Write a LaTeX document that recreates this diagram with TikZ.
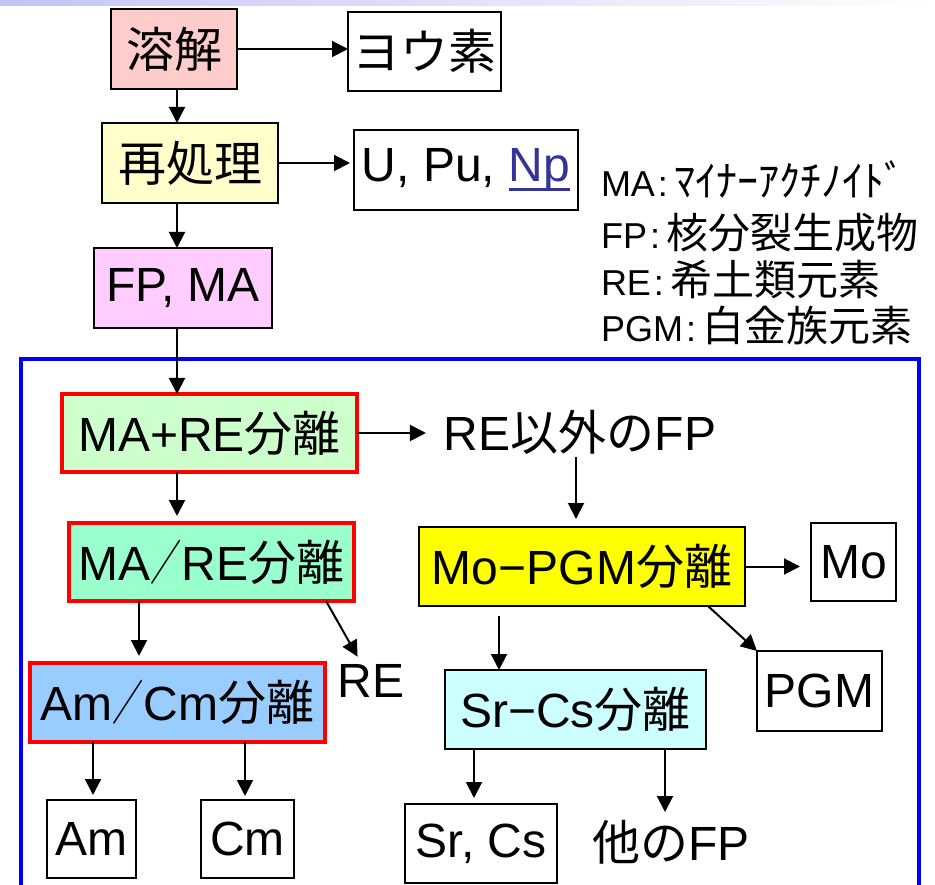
\documentclass[tikz,border=0pt]{standalone}
\usepackage{fontspec}
\usepackage{graphicx}
\setmainfont{Liberation Sans}
\newfontfamily\jp{Noto Sans CJK JP}
\usetikzlibrary{arrows.meta,calc}
\definecolor{pinkbox}{RGB}{255,204,204}
\definecolor{yellowbox}{RGB}{255,255,204}
\definecolor{magbox}{RGB}{255,204,255}
\definecolor{greenA}{RGB}{204,255,204}
\definecolor{greenB}{RGB}{153,255,204}
\definecolor{blueA}{RGB}{153,204,255}
\definecolor{yellowC}{RGB}{255,255,0}
\definecolor{cyanbox}{RGB}{204,255,255}
\definecolor{npblue}{RGB}{51,51,153}
\definecolor{bluefr}{RGB}{0,0,255}
\definecolor{barlav}{RGB}{196,196,245}
\newcommand\myul[1]{\setbox0\hbox{#1}\rlap{\rule[-9pt]{\wd0}{3pt}}\box0}
\newcommand\jslash{\scalebox{0.65}[1]{\jp ／}}
\newcommand\lgcjk[1]{{\jp\fontsize{42}{46}\selectfont #1}}
\newcommand\lgcolon{\kern3pt:\kern6pt}
\begin{document}
\begin{tikzpicture}[x=1pt,y=-1pt,
  every node/.style={inner sep=0pt, outer sep=0pt, font=\fontsize{48}{54}\selectfont},
  sz/.style 2 args={minimum width=#1pt, minimum height=#2pt},
  bx/.style={draw=black, line width=2pt},
  rbx/.style={draw=red, line width=4pt},
  legend/.style={anchor=base west, font=\fontsize{36}{42}\selectfont},
  arr/.style={line width=2pt, -{Triangle[length=16pt,width=16pt]}}]
\useasboundingbox (0,0) rectangle (935,885);
\fill[left color=barlav, right color=white] (0,0) rectangle (935,6);

% top part
\node[bx, fill=pinkbox, sz={126}{80}] (dis) at (174,49) {\jp 溶解};
\node[bx, sz={153}{79}] (iod) at (424.5,51.5) {\jp ヨウ素};
\node[bx, fill=yellowbox, sz={176}{80}] (rep) at (190,163) {\jp 再処理};
\node[bx, sz={224}{80}] (upu) at (466,170) {U, Pu, \textcolor{npblue}{\myul{Np}}};
\node[bx, fill=magbox, sz={178}{80}] (fpma) at (183,288) {FP, MA};

% legend
\node[legend] (l1) at (601,197) {MA\lgcolon\lgcjk{ﾏｲﾅｰｱｸﾁﾉｲﾄﾞ}};
\node[legend] (l2) at (601,249) {FP\lgcolon\lgcjk{核分裂生成物}};
\node[legend] (l3) at (601,296) {RE\lgcolon\lgcjk{希土類元素}};
\node[legend] (l4) at (601,342) {PGM\lgcolon\lgcjk{白金族元素}};

% blue frame
\draw[bluefr, line width=4.5pt] (21,892) -- (21,359) -- (919,359) -- (919,892);

% lower part
\node[rbx, fill=greenA, sz={295}{78}] (mare) at (209.5,433) {MA+RE{\jp 分離}};
\node (nonre) at (580,432) {RE{\jp 以外の}FP};
\node[rbx, fill=greenB, sz={285}{78}] (mare2) at (211.5,562) {MA\jslash RE{\jp 分離}};
\node (re) at (371,681) {RE};
\node[rbx, fill=blueA, sz={295}{79}] (amcm) at (177.5,702.5) {Am\jslash Cm{\jp 分離}};
\node[bx, sz={89}{78}] (am) at (91.5,839) {Am};
\node[bx, sz={93}{78}] (cm) at (247.5,839) {Cm};
\node[bx, fill=yellowC, sz={326}{79}] (mopgm) at (582,566.5) {Mo−PGM{\jp 分離}};
\node[bx, sz={85}{78}] (mo) at (853.5,562) {Mo};
\node[bx, sz={125}{80}] (pgm) at (819.5,691) {PGM};
\node[bx, fill=cyanbox, sz={261}{79}] (srcs) at (575.5,709.5) {Sr−Cs{\jp 分離}};
\node[bx, sz={152}{79}] (srcs2) at (481,843.5) {Sr, Cs};
\node (oth) at (671,842) {{\jp 他の}FP};

% columns
\coordinate (k1) at (177,0);
\coordinate (k2) at (139,0);
\coordinate (k3) at (93,0);
\coordinate (k4) at (245,0);
\coordinate (k5) at (576,0);
\coordinate (k6) at (499,0);
\coordinate (k7) at (474,0);
\coordinate (k8) at (665,0);

% connectors
\draw[arr] (dis.east) -- (dis.east -| iod.west);
\draw[arr, shorten >=4pt] (rep.east) -- (rep.east -| upu.west);
\draw[arr] (k1 |- dis.south) -- (k1 |- rep.north);
\draw[arr] (k1 |- rep.south) -- (k1 |- fpma.north);
\draw[arr] (k1 |- fpma.south) -- (k1 |- mare.north);
\draw[arr, shorten >=7pt] (k1 |- mare.south) -- (k1 |- mare2.north);
\draw[arr, shorten >=18pt] (mare.east) -- (mare.east -| nonre.west);
\draw[arr, shorten <=3pt, shorten >=8pt] (k5 |- nonre.south) -- (k5 |- mopgm.north);
\draw[arr, shorten >=7pt] (k2 |- mare2.south) -- (k2 |- amcm.north);
\draw[arr, shorten >=9pt] ([xshift=-28pt]mare2.south east) -- ([xshift=-9pt]re.north);
\draw[arr, shorten >=5pt] (k3 |- amcm.south) -- (k3 |- am.north);
\draw[arr, shorten >=4pt] (k4 |- amcm.south) -- (k4 |- cm.north);
\draw[arr, shorten >=11pt] (mopgm.east) -- (mopgm.east -| mo.west);
\draw[arr] ([xshift=-37pt]mopgm.south east) -- (pgm.north west);
\draw[arr, shorten <=10pt] (k6 |- mopgm.south) -- (k6 |- srcs.north);
\draw[arr, shorten >=6pt] (k7 |- srcs.south) -- (k7 |- srcs2.north);
\draw[arr, shorten >=8pt] (k8 |- srcs.south) -- (k8 |- oth.north);
\end{tikzpicture}
\end{document}
